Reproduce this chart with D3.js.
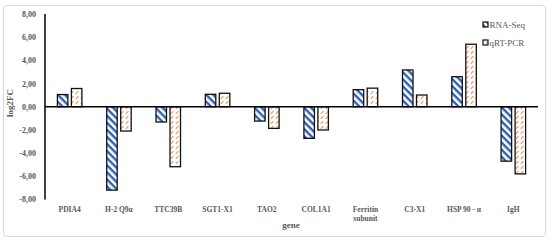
<!DOCTYPE html>
<html><head><meta charset="utf-8">
<script src="https://cdn.jsdelivr.net/npm/d3@7"></script>
<style>body{margin:0;background:#fff}svg{display:block}</style>
</head><body>
<svg id="c" width="550" height="241"></svg>
<script>
const genes = ["PDIA4","H-2 Q9α","TTC39B","SGT1-X1","TAO2","COL1A1","Ferritin subunit","C3-X1","HSP 90 - α","IgH"];
const rnaSeq = [1.05,-7.2,-1.32,1.07,-1.24,-2.73,1.47,3.17,2.59,-4.7];
const qrtPcr = [1.57,-2.1,-5.18,1.16,-1.87,-2.01,1.6,1.01,5.39,-5.8];
const seriesNames = ["RNA-Seq","qRT-PCR"];
const yTicks = [-8,-6,-4,-2,0,2,4,6,8];

const svg = d3.select("#c");
const defs = svg.append("defs");
const p1 = defs.append("pattern").attr("id","hBlue").attr("patternUnits","userSpaceOnUse")
  .attr("width",5).attr("height",5).attr("patternTransform","rotate(45)");
p1.append("rect").attr("width",5).attr("height",5).attr("fill","#fff");
p1.append("rect").attr("x",0).attr("y",0).attr("width",5).attr("height",2.4).attr("fill","#2E5FB4");
const p2 = defs.append("pattern").attr("id","hOrange").attr("patternUnits","userSpaceOnUse")
  .attr("width",5).attr("height",5);
p2.append("rect").attr("width",5).attr("height",5).attr("fill","#fff");
p2.append("line").attr("x1",0.8).attr("y1",3.8).attr("x2",3.4).attr("y2",1.2).attr("stroke","#EB955B").attr("stroke-width",1.2);

// frame
svg.append("rect").attr("x",3.5).attr("y",5.5).attr("width",542).attr("height",231)
  .attr("rx",3).attr("fill","#fff").attr("stroke","#D9D9D9").attr("stroke-width",1);

const x = d3.scaleBand().domain(genes).range([45,538]);
const y = d3.scaleLinear().domain([-8,8]).range([199.4,14]);
const font = "'Liberation Serif','Times New Roman',serif";
const gray = "#595959";

// y tick labels
const yAxis = d3.axisLeft(y).tickValues(yTicks).tickSize(0)
  .tickFormat(d => d3.format(".2f")(d).replace(".",",").replace("−","-"));
const ga = svg.append("g").attr("transform","translate(45,0)").call(yAxis);
ga.select(".domain").remove();
ga.selectAll("text").attr("x",-9).attr("font-family",font).attr("font-size",8)
  .attr("font-weight","bold").attr("fill",gray);

const bw = 10.5, gap = 3.5;
const g = svg.append("g");
[rnaSeq, qrtPcr].forEach((vals, si) => {
  g.selectAll(".b"+si).data(genes).enter().append("rect")
    .attr("x", (d) => x(d) + x.bandwidth()/2 + (si===0 ? -gap/2 - bw : gap/2))
    .attr("y", (d,i) => y(Math.max(0, vals[i])))
    .attr("width", bw)
    .attr("height", (d,i) => Math.abs(y(vals[i]) - y(0)))
    .attr("fill", si===0 ? "url(#hBlue)" : "url(#hOrange)")
    .attr("stroke","#111").attr("stroke-width",1.3);
});

// y axis line
svg.append("line").attr("x1",45).attr("x2",45).attr("y1",y(8)).attr("y2",y(-8))
  .attr("stroke","#000").attr("stroke-width",1.5);
// zero line
svg.append("line").attr("x1",45).attr("x2",538).attr("y1",y(0)).attr("y2",y(0))
  .attr("stroke","#000").attr("stroke-width",1.5);

// x labels
genes.forEach(gn => {
  const words = gn === "Ferritin subunit" ? ["Ferritin","subunit"] : [gn];
  const t = svg.append("text").attr("text-anchor","middle").attr("font-family",font)
    .attr("font-size",7.5).attr("font-weight","bold").attr("fill",gray);
  words.forEach((w,k) => t.append("tspan").attr("x", x(gn)+x.bandwidth()/2).attr("y", 211.5 + k*9).text(w));
});

// axis titles
svg.append("text").attr("x",291).attr("y",228).attr("text-anchor","middle")
  .attr("font-family",font).attr("font-size",9).attr("font-weight","bold").attr("fill",gray).text("gene");
svg.append("text").attr("transform","translate(13,103) rotate(-90)").attr("text-anchor","middle")
  .attr("font-family",font).attr("font-size",9).attr("font-weight","bold").attr("fill",gray).text("log2FC");

// legend
seriesNames.forEach((s,i) => {
  const ly = 22 + i*18;
  svg.append("rect").attr("x",483).attr("y",ly).attr("width",5).attr("height",5)
    .attr("fill", i===0 ? "url(#hBlue)" : "url(#hOrange)").attr("stroke","#111").attr("stroke-width",1.2);
  svg.append("text").attr("x",489.5).attr("y",ly+5.5).attr("font-family",font).attr("font-size",9)
    .attr("fill",gray).text(s);
});
</script>
</body></html>
